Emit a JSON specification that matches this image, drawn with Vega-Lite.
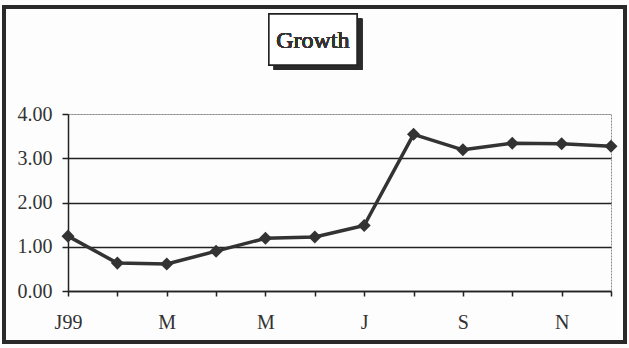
{
  "$schema": "https://vega.github.io/schema/vega-lite/v6.json",
  "width": 543,
  "height": 177,
  "autosize": {"type": "none"},
  "padding": {"left": 68, "top": 114, "right": 18, "bottom": 57},
  "background": "#fdfdfd",
  "config": {
    "view": {"stroke": "#8a8a8a", "strokeDash": [2, 1], "strokeWidth": 1},
    "axis": {
      "labelFont": "Times New Roman, Liberation Serif, serif",
      "labelFontSize": 20,
      "labelFontWeight": 400,
      "labelColor": "#333333",
      "domainColor": "#222222",
      "domainWidth": 1.5,
      "tickColor": "#222222",
      "tickWidth": 1.5,
      "title": null
    }
  },
  "data": {
    "values": [
      {"month": 1, "growth": 1.24},
      {"month": 2, "growth": 0.63},
      {"month": 3, "growth": 0.61},
      {"month": 4, "growth": 0.9},
      {"month": 5, "growth": 1.19},
      {"month": 6, "growth": 1.22},
      {"month": 7, "growth": 1.48},
      {"month": 8, "growth": 3.54},
      {"month": 9, "growth": 3.19},
      {"month": 10, "growth": 3.34},
      {"month": 11, "growth": 3.33},
      {"month": 12, "growth": 3.27}
    ]
  },
  "encoding": {
    "x": {
      "field": "month",
      "type": "quantitative",
      "scale": {"domain": [1, 12], "nice": false, "zero": false},
      "axis": {
        "values": [1, 2, 3, 4, 5, 6, 7, 8, 9, 10, 11, 12],
        "labelExpr": "datum.value == 1 ? 'J99' : datum.value == 3 ? 'M' : datum.value == 5 ? 'M' : datum.value == 7 ? 'J' : datum.value == 9 ? 'S' : datum.value == 11 ? 'N' : ''",
        "grid": false,
        "tickSize": 5,
        "labelPadding": 16,
        "labelFlush": false,
        "labelOverlap": false
      }
    },
    "y": {
      "field": "growth",
      "type": "quantitative",
      "scale": {"domain": [0, 4], "nice": false, "zero": true},
      "axis": {
        "values": [0, 1, 2, 3, 4],
        "format": ".2f",
        "tickSize": 6,
        "labelPadding": 10,
        "grid": true,
        "gridWidth": {"condition": {"test": "datum.value == 4", "value": 1}, "value": 1.5},
        "gridColor": {"condition": {"test": "datum.value == 4", "value": "#8a8a8a"}, "value": "#222222"},
        "gridDash": {"condition": {"test": "datum.value == 4", "value": [2, 1]}, "value": []}
      }
    }
  },
  "layer": [
    {
      "mark": {"type": "rect", "fill": null, "stroke": "#2a2a2a", "strokeWidth": 3},
      "encoding": {
        "x": {"datum": -0.3, "type": "quantitative"},
        "x2": {"datum": 12.285},
        "y": {"datum": 6.42, "type": "quantitative"},
        "y2": {"datum": -1.15}
      }
    },
    {
      "mark": {"type": "rect", "fill": "#2a2a2a", "stroke": null},
      "encoding": {
        "x": {"datum": 5.17, "type": "quantitative"},
        "x2": {"datum": 6.96},
        "y": {"datum": 6.15, "type": "quantitative"},
        "y2": {"datum": 5.0}
      }
    },
    {
      "mark": {"type": "rect", "fill": "#ffffff", "stroke": "#222222", "strokeWidth": 1.5},
      "encoding": {
        "x": {"datum": 5.07, "type": "quantitative"},
        "x2": {"datum": 6.855},
        "y": {"datum": 6.26, "type": "quantitative"},
        "y2": {"datum": 5.11}
      }
    },
    {
      "mark": {"type": "text", "text": "Growth", "font": "Times New Roman, Liberation Serif, serif", "fontSize": 24, "fontWeight": 400, "fill": "#333333", "align": "center", "baseline": "middle"},
      "encoding": {
        "x": {"datum": 5.96, "type": "quantitative"},
        "y": {"datum": 5.66, "type": "quantitative"}
      }
    },
    {
      "mark": {"type": "line", "color": "#333333", "strokeWidth": 3.5, "strokeJoin": "round"}
    },
    {
      "mark": {"type": "point", "shape": "diamond", "filled": true, "size": 170, "color": "#333333", "opacity": 1}
    }
  ]
}
